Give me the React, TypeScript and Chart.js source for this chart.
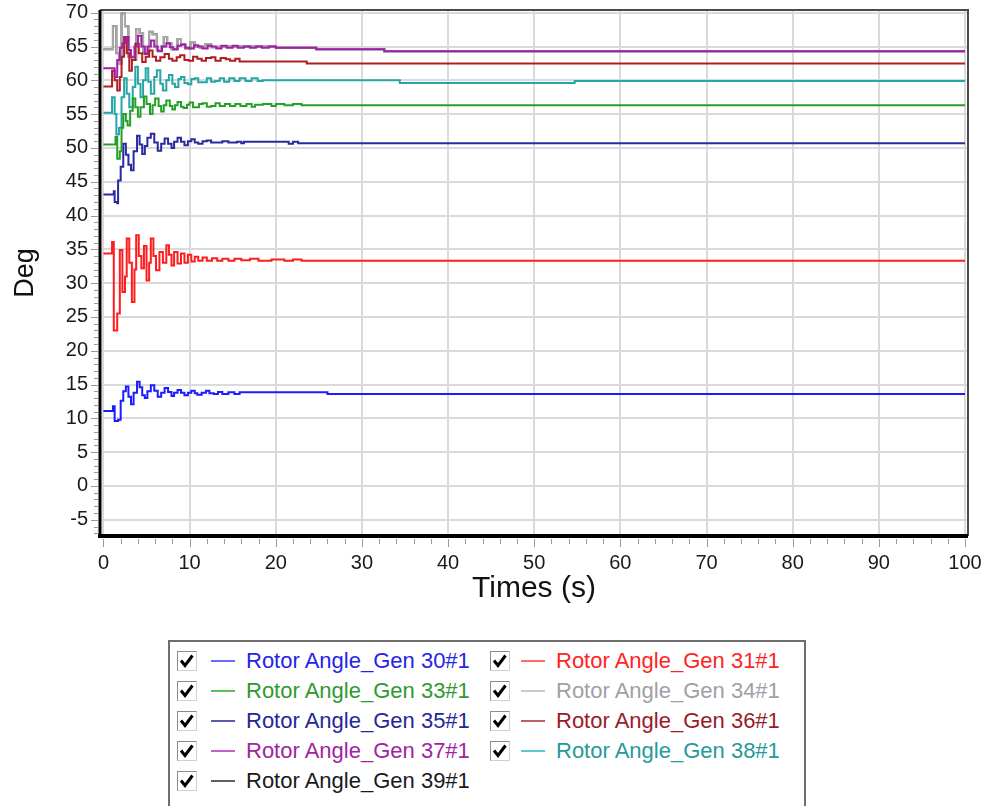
import React, { useEffect, useRef } from "react";
import { Chart, registerables } from "chart.js";

Chart.register(...registerables);

// ---- axis ticks ----
const xTickValues = [0, 10, 20, 30, 40, 50, 60, 70, 80, 90, 100];
const yTickValues = [-5, 0, 5, 10, 15, 20, 25, 30, 35, 40, 45, 50, 55, 60, 65, 70];

// ---- series data (time in s, angle in deg) ----
const gen30T = [0, 1.0, 1.1, 1.3, 1.7, 2.0, 2.3, 2.6, 2.9, 3.2, 3.5, 3.9, 4.2, 4.5, 4.8, 5.1, 5.5, 5.9, 6.3, 6.7, 7.1, 7.5, 7.9, 8.2, 8.6, 9.0, 9.4, 9.8, 10.2, 10.6, 10.9, 11.4, 11.9, 12.3, 12.8, 13.3, 13.8, 14.5, 15.2, 15.8, 26.0, 100];
const gen30V = [11.1, 11.1, 11.8, 9.6, 9.8, 12.6, 14.0, 14.7, 13.2, 12.1, 13.8, 15.4, 14.6, 13.4, 13.0, 14.0, 14.9, 14.1, 13.2, 13.8, 14.5, 13.9, 13.3, 13.8, 14.2, 13.8, 13.4, 13.8, 14.1, 13.7, 13.5, 13.8, 14.1, 13.7, 13.6, 13.9, 13.6, 13.85, 13.6, 13.85, 13.6, 13.6];

const gen31T = [0, 1.0, 1.2, 1.6, 1.9, 2.2, 2.5, 2.7, 3.0, 3.3, 3.6, 3.8, 4.1, 4.4, 4.7, 5.0, 5.3, 5.5, 5.8, 6.1, 6.5, 6.9, 7.3, 7.6, 7.9, 8.2, 8.6, 9.0, 9.4, 9.8, 10.2, 10.6, 11.0, 11.5, 12.0, 12.6, 13.2, 13.8, 14.5, 15.2, 16.0, 17.0, 18.0, 19.5, 21.0, 22.0, 23.0, 100];
const gen31V = [34.4, 36.1, 23.0, 25.5, 34.9, 28.7, 31.0, 36.6, 33.0, 27.2, 32.0, 37.1, 34.0, 32.2, 35.5, 30.4, 33.0, 36.6, 34.0, 31.9, 34.6, 33.0, 35.6, 34.2, 32.6, 34.6, 32.9, 34.4, 33.0, 34.2, 33.2, 33.9, 33.3, 33.8, 33.3, 33.7, 33.3, 33.6, 33.3, 33.6, 33.4, 33.6, 33.3, 33.5, 33.3, 33.5, 33.3, 33.3];

const gen33T = [0, 1.3, 1.4, 1.6, 1.9, 2.1, 2.3, 2.6, 2.8, 3.1, 3.4, 3.7, 4.0, 4.3, 4.7, 5.0, 5.4, 5.7, 6.0, 6.4, 6.7, 7.0, 7.3, 7.7, 8.0, 8.3, 8.6, 9.0, 9.3, 9.7, 10.0, 10.4, 10.7, 11.1, 11.5, 12.0, 12.5, 13.0, 13.5, 14.1, 14.7, 15.3, 15.9, 16.6, 17.2, 17.6, 18.5, 19.5, 20.0, 21.0, 22.0, 23.0, 100];
const gen33V = [50.5, 50.5, 51.6, 48.4, 49.5, 53.0, 55.0, 54.0, 53.3, 55.5, 57.3, 56.0, 54.6, 56.0, 57.6, 56.5, 55.0, 56.3, 57.3, 56.2, 55.4, 56.3, 57.0, 56.2, 55.7, 56.3, 56.8, 56.1, 55.9, 56.4, 56.7, 56.0, 56.0, 56.5, 56.6, 56.1, 56.2, 56.6, 56.2, 56.5, 56.2, 56.5, 56.2, 56.5, 56.1, 56.4, 56.5, 56.2, 56.5, 56.3, 56.5, 56.3, 56.3];

const gen34T = [0, 1.0, 1.1, 1.5, 1.8, 2.1, 2.5, 2.9, 3.3, 3.8, 4.2, 4.6, 5.0, 5.3, 5.7, 6.2, 6.7, 7.0, 7.4, 7.9, 8.6, 9.0, 9.5, 10.1, 10.6, 11.2, 11.8, 12.5, 13.5, 20.0, 24.7, 32.6, 100];
const gen34V = [64.6, 64.6, 68.0, 64.0, 62.5, 69.9, 68.0, 63.5, 63.0, 67.6, 67.0, 64.0, 64.0, 67.2, 66.8, 64.5, 65.0, 66.4, 65.5, 64.6, 66.1, 65.3, 64.7, 65.6, 65.0, 64.8, 65.3, 64.9, 65.0, 64.8, 64.6, 64.3, 64.3];

const gen35T = [0, 1.2, 1.3, 1.6, 1.7, 2.0, 2.3, 2.6, 2.9, 3.2, 3.5, 3.9, 4.2, 4.5, 4.8, 5.1, 5.5, 5.9, 6.3, 6.7, 7.1, 7.5, 7.9, 8.2, 8.6, 9.0, 9.4, 9.8, 10.2, 10.6, 11.0, 11.5, 12.0, 12.5, 13.0, 13.8, 14.5, 15.5, 16.0, 16.3, 21.5, 22.0, 22.6, 100];
const gen35V = [43.1, 43.6, 42.0, 41.8, 45.2, 47.2, 50.6, 49.0, 47.5, 46.7, 49.5, 51.8, 50.5, 49.1, 50.3, 51.5, 52.1, 50.8, 49.6, 50.6, 51.4, 50.6, 50.0, 50.9, 51.5, 50.9, 50.4, 51.0, 51.3, 50.8, 50.6, 51.0, 51.1, 50.8, 50.8, 51.0, 50.8, 50.9, 50.7, 50.9, 50.6, 50.9, 50.7, 50.7];

const gen36T = [0, 1.0, 1.3, 1.6, 1.9, 2.1, 2.4, 2.7, 3.0, 3.3, 3.7, 4.1, 4.5, 4.9, 5.3, 5.7, 6.1, 6.6, 7.1, 7.6, 8.0, 8.5, 8.9, 9.4, 9.9, 10.4, 10.9, 11.4, 11.9, 12.5, 13.0, 13.6, 14.2, 14.7, 15.3, 15.8, 17.0, 23.6, 100];
const gen36V = [59.1, 61.4, 60.0, 58.5, 60.5, 63.5, 66.4, 64.0, 61.4, 63.0, 65.4, 64.0, 62.7, 63.5, 64.4, 63.5, 62.9, 63.4, 63.9, 63.2, 62.9, 63.4, 63.7, 63.0, 62.9, 63.5, 63.2, 62.9, 63.3, 63.4, 62.9, 63.3, 63.1, 62.9, 63.2, 62.8, 62.8, 62.5, 62.5];

const gen37T = [0, 1.2, 1.3, 1.6, 1.9, 2.2, 2.6, 2.9, 3.2, 3.6, 4.0, 4.4, 4.8, 5.1, 5.5, 5.9, 6.3, 6.8, 7.3, 7.7, 8.1, 8.6, 9.0, 9.5, 10.0, 10.5, 11.0, 11.5, 12.1, 12.6, 13.1, 13.7, 14.3, 15.0, 15.6, 16.3, 17.0, 17.7, 18.4, 19.2, 20.0, 24.7, 32.6, 100];
const gen37V = [61.8, 61.8, 60.5, 63.0, 64.8, 65.5, 66.4, 64.5, 63.4, 65.0, 66.6, 65.0, 63.9, 65.0, 65.9, 65.0, 64.3, 65.0, 65.5, 64.9, 64.6, 65.1, 65.3, 64.8, 64.7, 65.2, 65.0, 64.7, 65.1, 65.0, 64.7, 65.1, 64.8, 65.1, 64.8, 65.0, 64.8, 65.0, 64.8, 65.0, 64.8, 64.6, 64.3, 64.3];

const gen38T = [0, 1.0, 1.3, 1.5, 1.8, 2.1, 2.4, 2.7, 3.0, 3.4, 3.7, 4.0, 4.3, 4.6, 4.9, 5.2, 5.5, 5.9, 6.2, 6.6, 6.9, 7.3, 7.6, 8.0, 8.3, 8.7, 9.0, 9.4, 9.8, 10.2, 10.6, 11.0, 11.5, 12.0, 12.5, 13.0, 13.5, 14.0, 14.6, 15.2, 15.8, 16.5, 17.2, 17.9, 18.5, 34.4, 54.7, 100];
const gen38V = [55.2, 57.5, 55.0, 52.0, 53.0, 57.5, 60.3, 58.0, 56.0, 59.0, 62.0, 59.5, 57.5, 60.0, 61.8, 59.8, 58.0, 60.5, 61.5, 59.5, 58.5, 60.0, 60.8, 59.5, 59.0, 60.2, 60.5, 59.6, 59.4, 60.2, 60.3, 59.7, 59.7, 60.3, 59.8, 59.9, 60.3, 59.8, 60.3, 59.9, 60.3, 59.9, 60.3, 59.9, 60.0, 59.6, 59.9, 59.9];

const gen39T = [0, 1.0, 1.1, 1.5, 1.8, 2.1, 2.5, 2.9, 3.3, 3.8, 4.2, 4.6, 5.0, 5.3, 5.7, 6.2, 6.7, 7.0, 7.4, 7.9, 8.6, 9.0, 9.5, 10.1, 10.6, 11.2, 11.8, 12.5, 13.5, 20.0, 24.7, 32.6, 100];
const gen39V = [64.6, 64.6, 68.0, 64.0, 62.5, 69.9, 68.0, 63.5, 63.0, 67.6, 67.0, 64.0, 64.0, 67.2, 66.8, 64.5, 65.0, 66.4, 65.5, 64.6, 66.1, 65.3, 64.7, 65.6, 65.0, 64.8, 65.3, 64.9, 65.0, 64.8, 64.6, 64.3, 64.3];

const seriesNames = [
  "Rotor Angle_Gen 30#1",
  "Rotor Angle_Gen 31#1",
  "Rotor Angle_Gen 33#1",
  "Rotor Angle_Gen 34#1",
  "Rotor Angle_Gen 35#1",
  "Rotor Angle_Gen 36#1",
  "Rotor Angle_Gen 37#1",
  "Rotor Angle_Gen 38#1",
  "Rotor Angle_Gen 39#1",
];
const seriesTimes = [gen30T, gen31T, gen33T, gen34T, gen35T, gen36T, gen37T, gen38T, gen39T];
const seriesValues = [gen30V, gen31V, gen33V, gen34V, gen35V, gen36V, gen37V, gen38V, gen39V];
const lineColors = ["#1c1cff", "#ff1c1c", "#26a026", "#a8a8a8", "#2a2aa0", "#b01e1e", "#a020a8", "#26a6a6", "#505050"];
const legendLineColors = ["#6a6aff", "#ff6a6a", "#5ac05a", "#cacaca", "#5a5ab0", "#c06060", "#c860c8", "#60c8c8", "#606060"];
const legendTextColors = ["#2424e6", "#ff2424", "#2e9a2e", "#a0a0a6", "#26269a", "#9a1a2a", "#a024a0", "#249a9a", "#1a1a1a"];
const drawOrder = [1, 1, 1, 2, 1, 1, 0, 1, 3];

const FONT = "'Liberation Sans', Arial, sans-serif";

const framePlugin = {
  id: "framePlugin",
  afterDraw(chart: any) {
    const { ctx, chartArea: a, scales } = chart;
    const xs = scales.x;
    const ys = scales.y;
    ctx.save();
    ctx.strokeStyle = "#9a9a9a";
    ctx.lineWidth = 1;
    for (let v = -7; v <= 70; v += 1) {
      const y = Math.round(ys.getPixelForValue(v)) + 0.5;
      const len = v % 5 === 0 ? 7 : 4;
      ctx.beginPath();
      ctx.moveTo(a.left - 2, y);
      ctx.lineTo(a.left - 2 - len, y);
      ctx.stroke();
    }
    for (let v = 0; v <= 100; v += 2) {
      const x = Math.round(xs.getPixelForValue(v)) + 0.5;
      const len = v % 10 === 0 ? 8 : 5;
      ctx.beginPath();
      ctx.moveTo(x, a.bottom + 3);
      ctx.lineTo(x, a.bottom + 3 + len);
      ctx.stroke();
    }
    ctx.strokeStyle = "#4a4a4a";
    ctx.lineWidth = 2;
    ctx.beginPath();
    ctx.moveTo(a.left, a.top);
    ctx.lineTo(a.right, a.top);
    ctx.lineTo(a.right, a.bottom);
    ctx.stroke();
    ctx.strokeStyle = "#000000";
    ctx.lineWidth = 3;
    ctx.beginPath();
    ctx.moveTo(a.left, a.top);
    ctx.lineTo(a.left, a.bottom);
    ctx.stroke();
    ctx.lineWidth = 4;
    ctx.beginPath();
    ctx.moveTo(a.left - 2, a.bottom);
    ctx.lineTo(a.right, a.bottom);
    ctx.stroke();
    ctx.restore();
  },
};

function CheckBox({ left, top }: { left: number; top: number }) {
  return (
    <div
      style={{
        position: "absolute",
        left,
        top,
        width: 20,
        height: 20,
        boxSizing: "border-box",
        borderTop: "1.5px solid #8c8c8c",
        borderLeft: "1.5px solid #8c8c8c",
        borderRight: "1px solid #d0d0d0",
        borderBottom: "1px solid #d0d0d0",
        background: "#fff",
      }}
    >
      <svg width="18" height="18" viewBox="0 0 18 18" style={{ position: "absolute", left: 0, top: 0 }}>
        <polyline points="3,8.5 7,13.5 14.5,3.5" fill="none" stroke="#000" strokeWidth="3" />
      </svg>
    </div>
  );
}

export default function App() {
  const canvasRef = useRef<HTMLCanvasElement | null>(null);

  useEffect(() => {
    const canvas = canvasRef.current;
    if (!canvas) return;
    const datasets = seriesNames.map((name, i) => ({
      label: name,
      data: seriesTimes[i].map((t, j) => ({ x: t, y: seriesValues[i][j] })),
      borderColor: lineColors[i],
      backgroundColor: lineColors[i],
      borderWidth: 2,
      pointRadius: 0,
      stepped: true,
      fill: false,
      order: drawOrder[i],
    }));
    const chart = new Chart(canvas, {
      type: "line",
      data: { datasets },
      plugins: [framePlugin],
      options: {
        animation: false,
        responsive: false,
        maintainAspectRatio: false,
        devicePixelRatio: 1,
        layout: { padding: { top: 10, right: 19, left: 0, bottom: 0 } },
        plugins: { legend: { display: false }, tooltip: { enabled: false } },
        scales: {
          x: {
            type: "linear",
            min: -0.4,
            max: 100.35,
            afterBuildTicks: (s: any) => {
              s.ticks = xTickValues.map((v) => ({ value: v }));
            },
            afterFit: (s: any) => {
              s.height = 104;
              s.paddingLeft = 0;
              s.paddingRight = 0;
            },
            border: { display: false },
            grid: { color: "#dadada", lineWidth: 2, drawTicks: false },
            ticks: {
              padding: 15,
              color: "#1a1a1a",
              maxRotation: 0,
              autoSkip: false,
              font: { family: FONT, size: 20 },
            },
            title: {
              display: true,
              text: "Times (s)",
              color: "#111",
              padding: { top: 0, bottom: 33 },
              font: { family: FONT, size: 30 },
            },
          },
          y: {
            type: "linear",
            min: -7.4,
            max: 70.4,
            afterBuildTicks: (s: any) => {
              s.ticks = yTickValues.map((v) => ({ value: v }));
            },
            afterFit: (s: any) => {
              s.width = 100;
              s.paddingTop = 0;
              s.paddingBottom = 0;
            },
            border: { display: false },
            grid: { color: "#dadada", lineWidth: 2, drawTicks: false },
            ticks: {
              padding: 12,
              color: "#1a1a1a",
              autoSkip: false,
              font: { family: FONT, size: 20 },
            },
            title: {
              display: true,
              text: "Deg",
              color: "#111",
              padding: { top: 9, bottom: 0 },
              font: { family: FONT, size: 27 },
            },
          },
        },
      } as any,
    });
    return () => chart.destroy();
  }, []);

  const rowTop = 661;
  const rowGap = 30;

  return (
    <div
      style={{
        position: "absolute",
        left: 0,
        top: 0,
        width: 987,
        height: 806,
        overflow: "hidden",
        background: "#ffffff",
        fontFamily: FONT,
      }}
    >
      <canvas ref={canvasRef} width={987} height={640} style={{ position: "absolute", left: 0, top: 0 }} />
      <div
        style={{
          position: "absolute",
          left: 168,
          top: 640,
          width: 638,
          height: 190,
          boxSizing: "border-box",
          border: "2px solid #6e6e6e",
        }}
      />
      {seriesNames.map((name, i) => {
        const col = i % 2;
        const row = Math.floor(i / 2);
        const cy = rowTop + row * rowGap;
        const boxLeft = col === 0 ? 177 : 490;
        const lineLeft = col === 0 ? 211 : 521;
        const textLeft = col === 0 ? 246 : 556;
        return (
          <React.Fragment key={name}>
            <CheckBox left={boxLeft} top={cy - 10} />
            <div
              style={{
                position: "absolute",
                left: lineLeft,
                top: cy - 1,
                width: 24,
                height: 2,
                background: legendLineColors[i],
              }}
            />
            <div
              style={{
                position: "absolute",
                left: textLeft,
                top: cy - 13,
                height: 26,
                lineHeight: "26px",
                fontSize: 22,
                color: legendTextColors[i],
                whiteSpace: "nowrap",
              }}
            >
              {name}
            </div>
          </React.Fragment>
        );
      })}
    </div>
  );
}
